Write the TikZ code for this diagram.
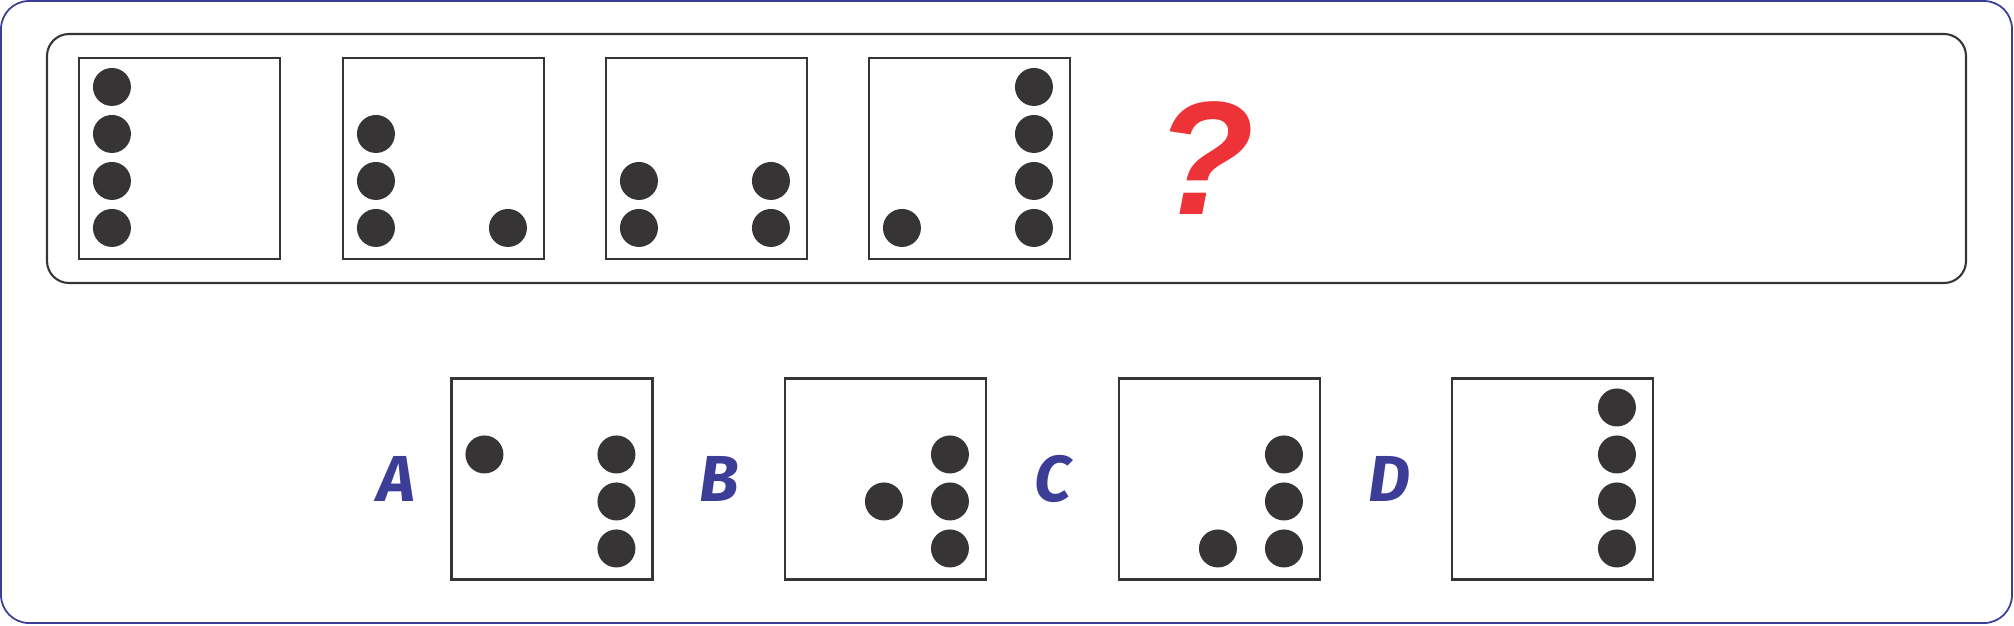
\documentclass[tikz,border=0pt]{standalone}
\usepackage{fontspec}
\usepackage{tikz}
\usetikzlibrary{positioning}
\newfontfamily\choicefont{Fira Sans}
\newfontfamily\askfont{Liberation Sans}
\definecolor{ink}{HTML}{373435}
\definecolor{frameblue}{HTML}{3C3D96}
\definecolor{qred}{HTML}{EE3338}
\tikzset{%
  cell/.style={draw=ink,line width=0.6pt,minimum size=2.01cm,inner sep=0pt},%
  pip/.style={fill=ink},%
  choice/.style={text=frameblue,inner sep=0pt,font=\choicefont\bfseries\itshape\fontsize{18.5}{18.5}\selectfont}%
}
% dots of a cell: column 0..2, row 0..3 from the top
\newcommand{\pips}[2]{%
  \foreach \c/\r in {#2}
    \fill[pip] ([shift={(0.34+0.66*\c,-0.30-0.47*\r)}]#1.north west) circle (0.19);%
}

\begin{document}
\begin{tikzpicture}
    \useasboundingbox (0,0) rectangle (20.14,6.25);
    \draw[frameblue,line width=0.5pt,rounded corners=0.28cm] (0.01,0.02) rectangle (20.12,6.24);
    \draw[ink,line width=0.6pt,rounded corners=0.22cm] (0.47,3.42) rectangle (19.66,5.91);

    % question row
    \node[cell] (t1) at (1.795,4.665) {};
    \node[cell] (t2) at (4.435,4.665) {};
    \node[cell] (t3) at (7.065,4.665) {};
    \node[cell] (t4) at (9.695,4.665) {};
    \node[text=qred,inner sep=0pt,font=\askfont\bfseries\itshape\fontsize{46}{46}\selectfont]
      (qm) at (12.05,4.67) {?};
    \pips{t1}{0/0,0/1,0/2,0/3}
    \pips{t2}{0/1,0/2,0/3,2/3}
    \pips{t3}{0/2,0/3,2/2,2/3}
    \pips{t4}{0/3,2/0,2/1,2/2,2/3}

    % answer row
    \node[cell] (ba) at (5.52,1.46) {};
    \node[cell] (bb) at (8.855,1.46) {};
    \node[cell] (bc) at (12.195,1.46) {};
    \node[cell] (bd) at (15.525,1.46) {};
    \node[choice,left=0.34cm of ba] (la) {A};
    \node[choice,left=0.44cm of bb] (lb) {B};
    \node[choice,left=0.46cm of bc] (lc) {C};
    \node[choice,left=0.40cm of bd] (ld) {D};
    \pips{ba}{0/1,2/1,2/2,2/3}
    \pips{bb}{1/2,2/1,2/2,2/3}
    \pips{bc}{1/3,2/1,2/2,2/3}
    \pips{bd}{2/0,2/1,2/2,2/3}
  \end{tikzpicture}
\end{document}
